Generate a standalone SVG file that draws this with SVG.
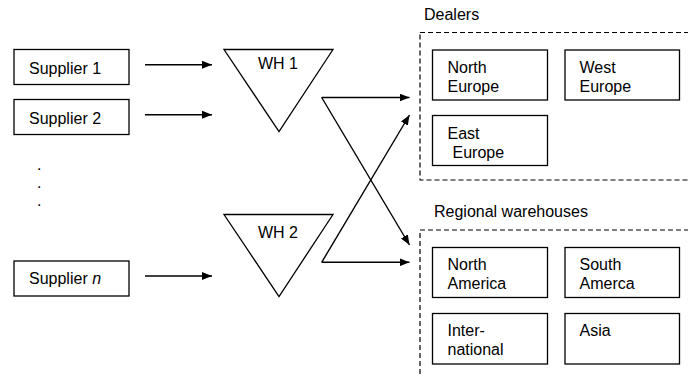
<svg xmlns="http://www.w3.org/2000/svg" width="688" height="377" viewBox="0 0 688 377">
<defs>
<marker id="ah" viewBox="0 0 10 8" refX="10" refY="4" markerWidth="10" markerHeight="8" markerUnits="userSpaceOnUse" orient="auto">
<path d="M0,0 L10,4 L0,8 Z" fill="#000"/>
</marker>
</defs>
<style>
text{font-family:"Liberation Sans",Arial,sans-serif;font-size:16px;fill:#000}
.box{fill:#fff;stroke:#000;stroke-width:1.3}
.grp{fill:none;stroke:#000;stroke-width:1.2;stroke-dasharray:5,3}
.tri{fill:#fff;stroke:#000;stroke-width:1.3}
.con{fill:none;stroke:#000;stroke-width:1.4;marker-end:url(#ah)}
</style>
<rect width="688" height="377" fill="#fff"/>

<g id="dealers">
<rect class="grp" x="420" y="32.5" width="280" height="147.5"/>
<text x="424" y="20">Dealers</text>
</g>
<g id="regional">
<rect class="grp" x="420" y="230" width="280" height="160"/>
<text x="434" y="217">Regional warehouses</text>
</g>

<g id="supplier1"><rect class="box" x="14" y="49.5" width="115" height="35"/><text x="29" y="74">Supplier 1</text></g>
<g id="supplier2"><rect class="box" x="14" y="99.5" width="115" height="35"/><text x="29" y="124">Supplier 2</text></g>
<g id="dots"><text x="37" y="170">.</text><text x="37" y="188">.</text><text x="37" y="206">.</text></g>
<g id="suppliern"><rect class="box" x="14" y="261" width="115" height="35"/><text x="29" y="284">Supplier <tspan font-style="italic">n</tspan></text></g>

<g id="wh1"><polygon class="tri" points="224,49.5 333,49.5 279,131.5"/><text x="258" y="69">WH 1</text></g>
<g id="wh2"><polygon class="tri" points="224,214.5 333,214.5 279,296.5"/><text x="258" y="238">WH 2</text></g>

<g id="northeurope"><rect class="box" x="432.5" y="50" width="115" height="50"/><text x="447.5" y="72.5">North</text><text x="447.5" y="91.5">Europe</text></g>
<g id="westeurope"><rect class="box" x="565" y="50" width="114.5" height="50"/><text x="579.5" y="72.5">West</text><text x="579.5" y="91.5">Europe</text></g>
<g id="easteurope"><rect class="box" x="432.5" y="115.5" width="115" height="50"/><text x="447.5" y="139">East</text><text x="452.5" y="157.5">Europe</text></g>

<g id="northamerica"><rect class="box" x="432.5" y="247.5" width="115" height="50"/><text x="447.5" y="270">North</text><text x="447.5" y="289">America</text></g>
<g id="southamerica"><rect class="box" x="565" y="247.5" width="114.5" height="50"/><text x="579.5" y="270">South</text><text x="579.5" y="289">Amerca</text></g>
<g id="international"><rect class="box" x="432.5" y="313.5" width="115" height="50.5"/><text x="447.5" y="336">Inter-</text><text x="447.5" y="355">national</text></g>
<g id="asia"><rect class="box" x="565" y="313.5" width="114.5" height="50.5"/><text x="579.5" y="336">Asia</text></g>

<g id="connectors">
<line class="con" x1="145" y1="64.7" x2="212" y2="64.7"/>
<line class="con" x1="145" y1="114.7" x2="212" y2="114.7"/>
<line class="con" x1="145" y1="276" x2="212" y2="276"/>
<line class="con" x1="321.7" y1="97.5" x2="409.5" y2="97.5"/>
<line class="con" x1="321.7" y1="97.5" x2="409.5" y2="245"/>
<line class="con" x1="321.7" y1="262.3" x2="409.5" y2="262.3"/>
<line class="con" x1="321.7" y1="262.3" x2="409.5" y2="115"/>
</g>
</svg>
